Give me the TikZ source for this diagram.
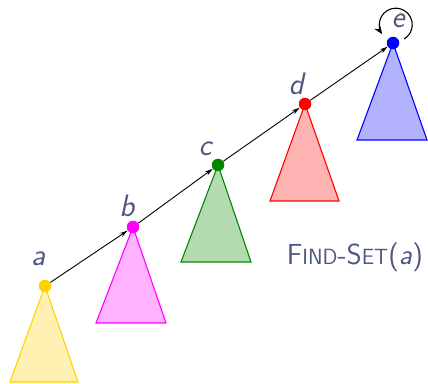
\documentclass[tikz,border=0pt]{standalone}
\usetikzlibrary{arrows.meta}
\definecolor{textcol}{RGB}{78,88,128}
\definecolor{cgold}{RGB}{255,210,0}
\definecolor{cmag}{RGB}{255,0,255}
\definecolor{cgreen}{RGB}{0,135,0}
\definecolor{cred}{RGB}{255,0,0}
\definecolor{cblue}{RGB}{0,0,255}
\tikzset{
  dotn/.style={circle,fill=#1,inner sep=0pt,minimum size=12.5pt},
  tri/.style={draw=#1,fill=#1,fill opacity=0.3,draw opacity=1,line width=1.1pt,line join=miter},
  lbl/.style={text=textcol,font=\fontsize{31}{36}\selectfont\sffamily\itshape,inner sep=0pt},
  lnk/.style={black,line width=0.9pt,-{Stealth[length=8pt,width=4.5pt]}},
}
\begin{document}
\begin{tikzpicture}[x=1pt,y=1pt]
\useasboundingbox (0,0) rectangle (428,383);
% triangles
\filldraw[tri=cgold] (45,97) -- (78,1) -- (10,1) -- cycle;
\filldraw[tri=cmag] (133,156) -- (166,60) -- (96,60) -- cycle;
\filldraw[tri=cgreen] (218,218) -- (251,121) -- (181,121) -- cycle;
\filldraw[tri=cred] (305,279) -- (339,182) -- (270,182) -- cycle;
\filldraw[tri=cblue] (393,340) -- (427,243) -- (357,243) -- cycle;
% dots
\node[dotn=cgold] (a) at (45,97) {};
\node[dotn=cmag] (b) at (133,156) {};
\node[dotn=cgreen] (c) at (218,218) {};
\node[dotn=cred] (d) at (305,279) {};
\node[dotn=cblue] (e) at (393,340) {};
% labels
\node[lbl] (la) at (38,124) {a};
\node[lbl] (lb) at (127,177) {b};
\node[lbl] (lc) at (205,234) {c};
\node[lbl] (ld) at (296,299) {d};
\node[lbl] (le) at (398,362) {e};
\node[text=textcol,font=\fontsize{29}{34}\selectfont\sffamily,inner sep=0pt] (fs) at (355,126)
  {F{\fontsize{22}{26}\selectfont IND}-S{\fontsize{22}{26}\selectfont ET}(\textit{a})};
% links
\draw[lnk] (a) -- (b);
\draw[lnk] (b) -- (c);
\draw[lnk] (c) -- (d);
\draw[lnk] (d) -- (e);
\coordinate (ls) at (404,344);
\draw[lnk,line width=1.1pt,-{Stealth[length=9pt,width=7pt]}] (ls) arc[start angle=-60,end angle=215,radius=16.5];
\end{tikzpicture}
\end{document}
